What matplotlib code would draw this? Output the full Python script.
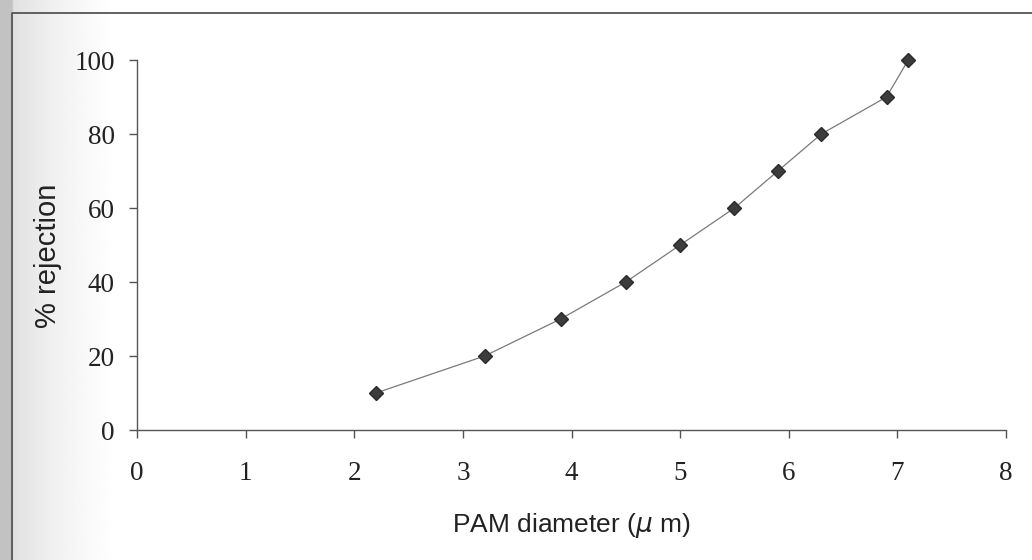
import matplotlib
matplotlib.use("Agg")
import matplotlib.pyplot as plt
import numpy as np

# 数据：PAM 直径 vs 截留率
diameter = [2.2, 3.2, 3.9, 4.5, 5.0, 5.5, 5.9, 6.3, 6.9, 7.1]
rejection = [10, 20, 30, 40, 50, 60, 70, 80, 90, 100]
x_ticks = [0, 1, 2, 3, 4, 5, 6, 7, 8]
y_ticks = [0, 20, 40, 60, 80, 100]

plt.rcParams["mathtext.fontset"] = "dejavusans"

fig = plt.figure(figsize=(10.32, 5.6), dpi=100)

# 扫描件的灰色背景渐变（左侧）
bg = fig.add_axes([0, 0, 1, 1], zorder=-10)
grad = np.linspace(0, 1, 400)
shade = np.where(grad < 12 / 1032, 0.76,
                 np.clip(0.82 + 0.18 * np.sqrt(np.clip(grad * 9, 0, 1)), 0, 1))
bg.imshow(np.tile(shade, (2, 1)), cmap="gray", vmin=0, vmax=1,
          aspect="auto", extent=[0, 1, 0, 1])
bg.set_xlim(0, 1)
bg.set_ylim(0, 1)
bg.axis("off")
# 图表区边框
bg.plot([12 / 1032, 12 / 1032, 1], [0, 1 - 13 / 560, 1 - 13 / 560],
        color="#555555", lw=1.3)

ax = fig.add_axes([137 / 1032, 1 - 430 / 560, 869 / 1032, 370 / 560])
ax.patch.set_alpha(0)
ax.plot(diameter, rejection, color="#7a7a7a", lw=0.9, marker="D",
        markersize=7.5, markerfacecolor="#3c3c3c", markeredgecolor="#2a2a2a",
        clip_on=False)

ax.set_xlim(0, 8)
ax.set_ylim(0, 100)
ax.set_xticks(x_ticks)
ax.set_yticks(y_ticks)
for s in ["top", "right"]:
    ax.spines[s].set_visible(False)
for s in ["left", "bottom"]:
    ax.spines[s].set_color("#555555")
    ax.spines[s].set_linewidth(1.0)

ax.tick_params(axis="x", direction="out", length=6, width=1, color="#555555",
               pad=16, labelsize=19.5, labelcolor="#222222")
ax.tick_params(axis="y", direction="out", length=6, width=1, color="#555555",
               pad=10, labelsize=19.5, labelcolor="#222222")
for lab in ax.get_xticklabels() + ax.get_yticklabels():
    lab.set_fontfamily("Liberation Serif")

ax.set_xlabel(r"PAM diameter ($\mu$ m)", fontsize=19, family="Liberation Sans",
              color="#222222", labelpad=18)
ax.set_ylabel("% rejection", fontsize=21, family="Liberation Sans",
              color="#222222", va="center")
ax.yaxis.set_label_coords(-0.102, 0.47)

fig.savefig("out.png", dpi=100)
